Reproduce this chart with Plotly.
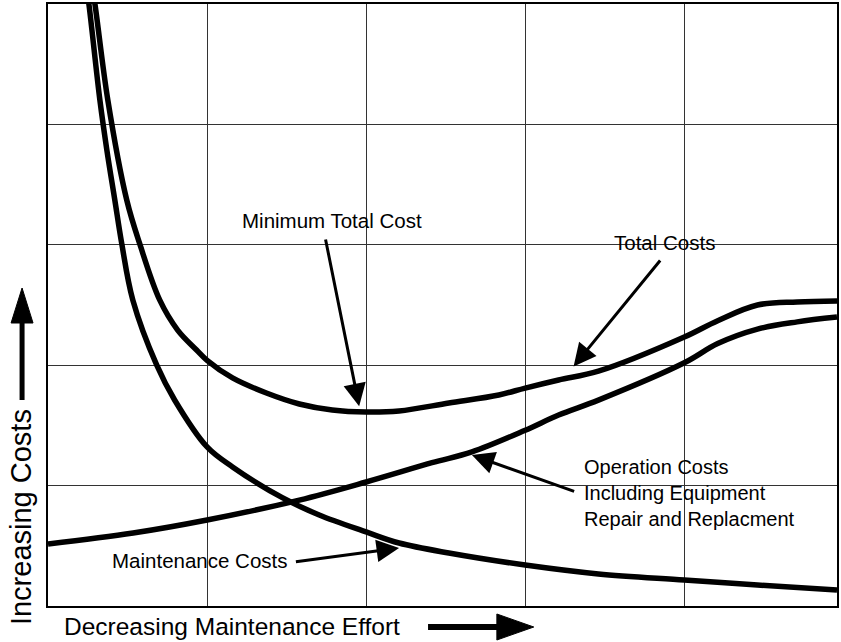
import plotly.graph_objects as go

# ---- data (arbitrary units) ----
maint_x = [0.235, 0.257, 0.326, 0.370, 0.420, 0.464, 0.533, 0.683, 0.796, 1.0, 1.16,
           1.473, 1.705, 2.0, 2.207, 2.52, 3.0, 3.46, 4.0, 4.46, 4.96]
maint_y = [5.2, 5.0, 4.203, 3.787, 3.372, 3.007, 2.542, 2.002, 1.711, 1.321, 1.155,
           0.90, 0.756, 0.615, 0.523, 0.44, 0.34, 0.266, 0.216, 0.174, 0.133]

op_x = [0, 0.535, 1.0, 1.58, 2.0, 2.414, 2.665, 3.0, 3.21, 3.46, 4.0, 4.21, 4.46, 4.71, 4.96]
op_y = [0.515, 0.606, 0.714, 0.88, 1.03, 1.19, 1.28, 1.46, 1.586, 1.71, 2.02, 2.18, 2.30, 2.36, 2.40]

total_x = [0.27, 0.295, 0.376, 0.495, 0.577, 0.702, 0.815, 0.934, 1.0, 1.16, 1.373,
           1.58, 1.787, 2.0, 2.207, 2.52, 2.834, 3.0, 3.21, 3.46, 4.0, 4.21, 4.46, 4.71, 4.96]
total_y = [5.2, 5.0, 4.203, 3.372, 3.007, 2.542, 2.292, 2.126, 2.04, 1.894, 1.769,
           1.678, 1.628, 1.611, 1.62, 1.686, 1.753, 1.81, 1.877, 1.95, 2.234, 2.37, 2.50, 2.525, 2.533]

grid_vals_x = [1, 2, 3, 4]
grid_vals_y = [1, 2, 3, 4]

FONT = "Liberation Sans, Arial, Helvetica, sans-serif"

fig = go.Figure()
for xs, ys in [(maint_x, maint_y), (op_x, op_y), (total_x, total_y)]:
    fig.add_trace(go.Scatter(x=xs, y=ys, mode="lines",
                             line=dict(color="black", width=5.5, shape="spline", smoothing=1.0),
                             hoverinfo="skip", showlegend=False))

# plot geometry in pixels (for paper-coordinate helpers)
W, H = 841, 642
L, R, T, B = 48, 2, 4, 36
PW, PH = W - L - R, H - T - B


def px(x):
    return (x - L) / PW


def py(y):
    return (H - B - y) / PH


LBL = dict(family=FONT, size=20.5, color="black")
annotations = []
annotations.append(dict(x=1.787, y=3.206, xref="x", yref="y", text="Minimum Total Cost",
                        showarrow=False, font=LBL))
annotations.append(dict(x=3.875, y=3.023, xref="x", yref="y", text="Total Costs",
                        showarrow=False, font=LBL))
annotations.append(dict(x=3.36, y=0.94, xref="x", yref="y",
                        text="Operation Costs<br>Including Equipment<br>Repair and Replacment",
                        showarrow=False, xanchor="left", align="left",
                        font=dict(family=FONT, size=20, color="black")))
annotations.append(dict(x=0.39, y=0.38, xref="x", yref="y", text="Maintenance Costs",
                        showarrow=False, xanchor="left", font=LBL))

# arrows (tail -> head), in data coords
arrows = [
    ((1.743, 3.057), (1.956, 1.66)),
    ((3.856, 2.882), (3.304, 1.99)),
    ((3.317, 0.947), (2.665, 1.254)),
    ((1.549, 0.365), (2.207, 0.482)),
]
for (tx, ty), (hx, hy) in arrows:
    annotations.append(dict(x=hx, y=hy, xref="x", yref="y", ax=tx, ay=ty,
                            axref="x", ayref="y", text="", showarrow=True,
                            arrowhead=2, arrowsize=1.5, arrowwidth=3, arrowcolor="black"))

# axis titles
annotations.append(dict(x=px(62), y=py(626), xref="paper", yref="paper",
                        text="Decreasing Maintenance Effort", showarrow=False,
                        xanchor="left", yanchor="middle",
                        font=dict(family=FONT, size=24.5, color="black")))
annotations.append(dict(x=px(21), y=py(517), xref="paper", yref="paper",
                        text="Increasing Costs", showarrow=False, textangle=-90,
                        xanchor="center", yanchor="middle",
                        font=dict(family=FONT, size=29, color="black")))

shapes = []
# x-title arrow
shapes.append(dict(type="line", xref="paper", yref="paper",
                   x0=px(429), x1=px(502), y0=py(627), y1=py(627),
                   line=dict(color="black", width=6)))
shapes.append(dict(type="path", xref="paper", yref="paper",
                   path=f"M {px(498)} {py(614)} L {px(535)} {py(627)} L {px(498)} {py(640)} Z",
                   fillcolor="black", line=dict(color="black", width=1)))
# y-title arrow
shapes.append(dict(type="line", xref="paper", yref="paper",
                   x0=px(22), x1=px(22), y0=py(400), y1=py(320),
                   line=dict(color="black", width=5)))
shapes.append(dict(type="path", xref="paper", yref="paper",
                   path=f"M {px(11)} {py(323)} L {px(22)} {py(288)} L {px(33)} {py(323)} Z",
                   fillcolor="black", line=dict(color="black", width=1)))

axis_common = dict(showticklabels=False, ticks="", showgrid=True, gridcolor="#333",
                   gridwidth=1, zeroline=False, showline=True, mirror=True,
                   linecolor="black", linewidth=1.5)

fig.update_layout(
    width=W, height=H,
    margin=dict(l=L, r=R, t=T, b=B),
    paper_bgcolor="white", plot_bgcolor="white",
    xaxis=dict(range=[0, 4.96], tickvals=grid_vals_x, **axis_common),
    yaxis=dict(range=[0, 5], tickvals=grid_vals_y, **axis_common),
    annotations=annotations,
    shapes=shapes,
    showlegend=False,
)

fig.write_html("out.html", config={"displayModeBar": False},
               post_script="document.body.style.margin='0';document.body.style.overflow='hidden';")
